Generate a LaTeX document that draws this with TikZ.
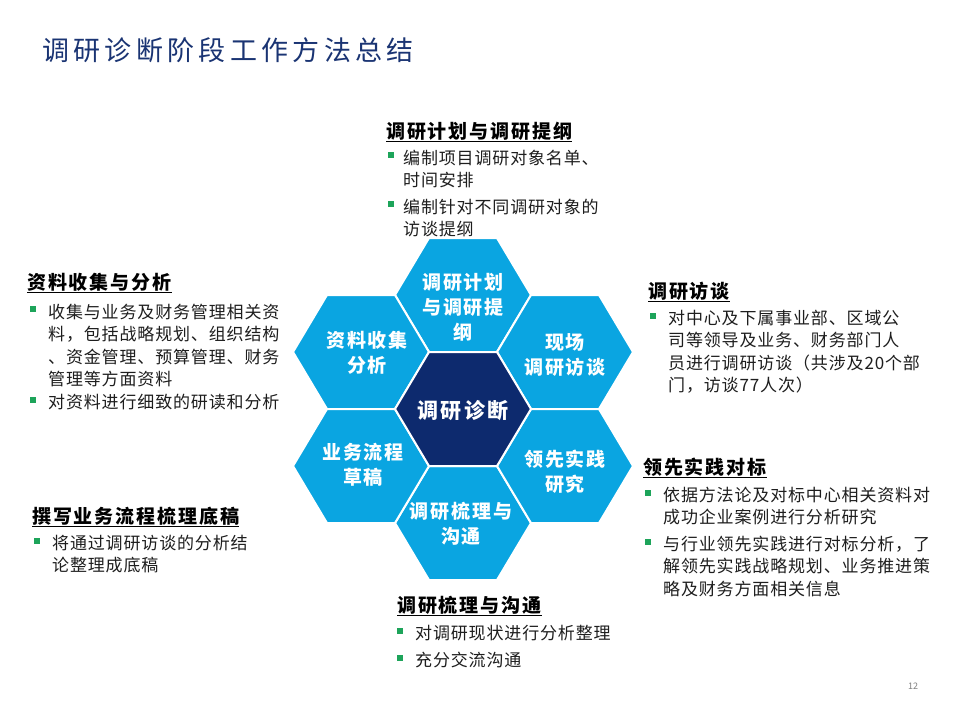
\documentclass[tikz,border=0pt]{standalone}
\usepackage{fontspec}
\setmainfont{Noto Sans CJK SC}
\newfontfamily\bodyf{Noto Sans CJK SC}[LetterSpace=5]
\newfontfamily\headf{Noto Sans CJK SC}[LetterSpace=10]
\newfontfamily\hexf{Noto Sans CJK SC}[LetterSpace=10]
\newfontfamily\titlef{Noto Sans CJK SC}[LetterSpace=16]
\definecolor{hexblue}{HTML}{0AA5E1}
\definecolor{hexnavy}{HTML}{0D2A6E}
\definecolor{titleblue}{HTML}{1A3473}
\definecolor{bulletgreen}{HTML}{1DA45A}
\definecolor{bodytext}{HTML}{1E1E1E}
\begin{document}
\begin{tikzpicture}[x=1pt,y=-1pt,
  hexbox/.style={draw=white, line width=2pt, line join=miter},
  hextext/.style={text=white, inner sep=0, align=center,
    font=\hexf\bfseries\fontsize{19}{25}\selectfont},
  heading/.style={anchor=base west, inner sep=0, text=black,
    font=\headf\bfseries\fontsize{19}{22}\selectfont},
  body/.style={anchor=base west, inner sep=0, text width=320pt, align=left, text=bodytext,
    font=\bodyf\fontsize{17}{22.5}\selectfont},
  bul/.style={fill=bulletgreen, minimum size=6.5pt, inner sep=0}]
\fill[white] (0,0) rectangle (960,720);
\useasboundingbox (0,0) rectangle (960,720);

% title
\node[anchor=base west, inner sep=0, text=titleblue, font=\titlef\fontsize{27}{30}\selectfont] (title) at (42,60) {调研诊断阶段工作方法总结};

% hexagons
\foreach \cx/\cy/\col in {463/295/hexblue, 463/523/hexblue, 361/352/hexblue, 565/352/hexblue, 361/466/hexblue, 565/466/hexblue, 463/409/hexnavy}
  \fill[\col, hexbox] (\cx-68,\cy) -- (\cx-34,\cy-57) -- (\cx+34,\cy-57) -- (\cx+68,\cy) -- (\cx+34,\cy+57) -- (\cx-34,\cy+57) -- cycle;

\node[hextext] (htop) at (463,307) {调研计划\\与调研提\\纲};
\node[hextext] (hul) at (367,353) {资料收集\\分析};
\node[hextext] (hur) at (565,355) {现场\\调研访谈};
\node[hextext, font=\hexf\bfseries\fontsize{21}{25}\selectfont] (hc) at (463,411) {调研诊断};
\node[hextext] (hll) at (363,465) {业务流程\\草稿};
\node[hextext] (hlr) at (565,472) {领先实践\\研究};
\node[hextext] (hbot) at (461,524) {调研梳理与\\沟通};

% top block
\node[heading] (th) at (386,138) {\underline{调研计划与调研提纲}};
\node[bul] (tb1) at (391,155) {};
\node[body] (tt1) at (403,164) {编制项目调研对象名单、\\时间安排};
\node[bul] (tb2) at (391,204) {};
\node[body] (tt2) at (403,213) {编制针对不同调研对象的\\访谈提纲};

% left block
\node[heading] (lh) at (27,289) {\underline{资料收集与分析}};
\node[bul] (lb1) at (33,309) {};
\node[body] (lt1) at (48,318) {收集与业务及财务管理相关资\\料，包括战略规划、组织结构\\、资金管理、预算管理、财务\\管理等方面资料};
\node[bul] (lb2) at (33,400) {};
\node[body] (lt2) at (48,408) {对资料进行细致的研读和分析};

% right block 1
\node[heading] (r1h) at (648,298) {\underline{调研访谈}};
\node[bul] (r1b1) at (653,316) {};
\node[body] (r1t1) at (668,324) {对中心及下属事业部、区域公\\司等领导及业务、财务部门人\\员进行调研访谈（共涉及20个部\\门，访谈77人次）};

% right block 2
\node[heading] (r2h) at (643,474) {\underline{领先实践对标}};
\node[bul] (r2b1) at (648,493) {};
\node[body] (r2t1) at (663,501) {依据方法论及对标中心相关资料对\\成功企业案例进行分析研究};
\node[bul] (r2b2) at (648,542) {};
\node[body] (r2t2) at (663,550) {与行业领先实践进行对标分析，了\\解领先实践战略规划、业务推进策\\略及财务方面相关信息};

% bottom-left block
\node[heading] (blh) at (32,523) {\underline{撰写业务流程梳理底稿}};
\node[bul] (blb1) at (37,541) {};
\node[body] (blt1) at (52,549) {将通过调研访谈的分析结\\论整理成底稿};

% bottom block
\node[heading] (bh) at (397,612) {\underline{调研梳理与沟通}};
\node[bul] (bb1) at (400,631) {};
\node[body] (bt1) at (415,639) {对调研现状进行分析整理};
\node[bul] (bb2) at (400,658) {};
\node[body] (bt2) at (415,666) {充分交流沟通};

% page number
\node[anchor=base, inner sep=0, text=gray, font=\fontsize{9}{10}\selectfont] (pg) at (913,689) {12};
\end{tikzpicture}
\end{document}
